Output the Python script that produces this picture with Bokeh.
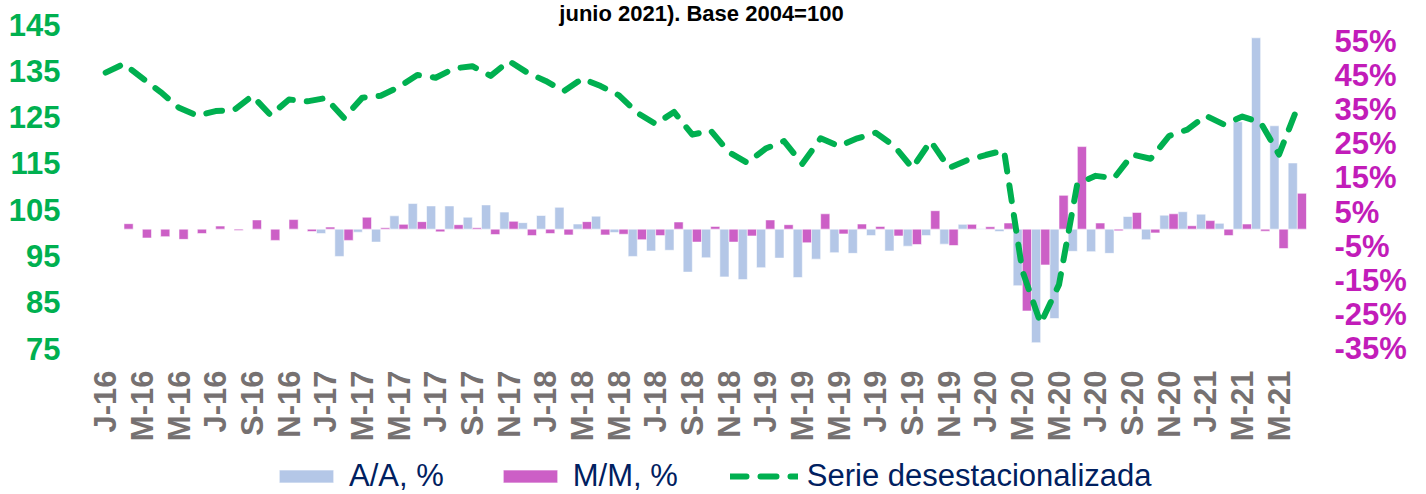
import numpy as np
from bokeh.plotting import figure
from bokeh.layouts import column
from bokeh.models import (Range1d, LinearAxis, FixedTicker, Legend, LegendItem,
                          ColumnDataSource, PrintfTickFormatter)
from bokeh.transform import dodge
from bokeh.embed import file_html
from bokeh.resources import INLINE

# ---------------- data ----------------
tick_labels = ["J-16", "M-16", "M-16", "J-16", "S-16", "N-16",
               "J-17", "M-17", "M-17", "J-17", "S-17", "N-17",
               "J-18", "M-18", "M-18", "J-18", "S-18", "N-18",
               "J-19", "M-19", "M-19", "J-19", "S-19", "N-19",
               "J-20", "M-20", "M-20", "J-20", "S-20", "N-20",
               "J-21", "M-21", "M-21"]

# Serie desestacionalizada (index, base 2004=100), Jan-2016 .. Jun-2021
serie = [134.6, 136.5, 133.4, 130.4, 127.0, 125.3, 126.3, 126.5, 129.6, 125.4,
         128.8, 128.4, 129.1, 124.8, 129.2, 129.6, 131.5, 134.1, 133.5, 135.5,
         136.0, 133.9, 137.1, 134.6, 132.8, 130.6, 133.3, 131.7, 129.7, 125.9,
         123.5, 126.1, 121.2, 122.1, 117.4, 115.1, 118.2, 119.8, 114.9, 120.4,
         118.7, 120.4, 121.6, 118.8, 114.0, 119.8, 114.0, 115.7, 116.8, 117.8,
         91.8, 80.4, 88.8, 110.6, 112.3, 111.8, 116.9, 116.0, 120.9, 122.3,
         125.3, 123.4, 125.1, 123.8, 116.9, 127.0]

# A/A, % (year-on-year), available from Jan-2017
aa = [np.nan] * 12 + [
    -1.3, -8.0, -0.9, -3.8, 3.9, 7.5, 6.8, 6.8, 3.5, 7.1, 5.0, 1.9,
    4.0, 6.4, 1.5, 3.8, -1.0, -8.0, -6.4, -6.2, -12.6, -8.4, -14.0, -14.8,
    -11.3, -8.5, -14.2, -8.8, -6.9, -7.1, -1.9, -6.4, -5.0, -1.9, -4.4, 1.4,
    0.1, -0.7, -16.6, -33.3, -26.2, -6.5, -6.6, -7.1, 3.7, -3.1, 4.1, 5.1,
    4.4, 1.7, 31.5, 56.1, 30.3, 19.4]

# M/M, % (month-on-month), available from Feb-2016
mm = [np.nan] + [
    1.6, -2.6, -2.2, -3.0, -1.3, 0.9, -0.4, 2.7, -3.3, 2.8, -0.7,
    0.6, -3.3, 3.5, 0.4, 1.4, 2.2, -0.8, 1.3, 0.4, -1.6, 2.3, -1.9,
    -1.3, -1.7, 2.2, -1.7, -1.5, -3.1, -1.9, 2.1, -3.8, 0.8, -3.8, -2.0,
    2.7, 1.3, -4.0, 4.5, -1.4, 1.5, 0.8, -2.0, -4.5, 5.4, -4.8, 1.4,
    0.7, 1.8, -24.0, -10.5, 9.9, 24.2, 1.8, -0.5, 4.9, -1.1, 4.5, 1.0,
    2.5, -1.9, 1.5, -0.6, -5.7, 10.5]

left_ticks = [75, 85, 95, 105, 115, 125, 135, 145]
right_ticks = [-35, -25, -15, -5, 5, 15, 25, 35, 45, 55]

TITLE = "junio 2021). Base 2004=100"
AA_COL = "#B4C7E7"
MM_COL = "#CC5FC6"
LINE_COL = "#00B050"

# ---------------- main figure ----------------
n = len(serie)
src = ColumnDataSource(dict(x=list(range(n)), aa=aa, mm=mm, serie=serie))

p = figure(width=1426, height=450, output_backend="svg", toolbar_location=None,
           x_range=Range1d(-0.5, n - 0.5), y_range=Range1d(75, 145),
           min_border_left=96, min_border_right=120, min_border_top=0,
           min_border_bottom=102)
p.extra_y_ranges = {"pct": Range1d(-35, 60)}
p.xgrid.visible = False
p.ygrid.visible = False
p.outline_line_color = None
p.background_fill_color = "white"
p.border_fill_color = "white"

p.title.text = TITLE
p.title.align = "center"
p.title.text_font = "Liberation Sans"
p.title.text_font_style = "bold"
p.title.text_font_size = "22px"
p.title.text_color = "black"
p.title.standoff = -3
p.title.offset = 5

bar_kw = dict(bottom=0, width=0.5, line_color="white", line_width=0.8,
              line_alpha=0.7)
p.vbar(x=dodge("x", -0.25), top="aa", source=src, y_range_name="pct",
       fill_color=AA_COL, **bar_kw)
p.vbar(x=dodge("x", 0.25), top="mm", source=src, y_range_name="pct",
       fill_color=MM_COL, **bar_kw)
line_kw = dict(line_color=LINE_COL, line_width=6, line_dash="16 14",
               line_cap="round", line_join="round")
p.line(x="x", y="serie", source=src, **line_kw)

# left axis
ya = p.yaxis[0]
ya.ticker = FixedTicker(ticks=left_ticks)
ya.axis_line_color = None
ya.major_tick_line_color = None
ya.minor_tick_line_color = None
ya.major_tick_out = 0
ya.major_label_standoff = 36
ya.major_label_text_font = "Liberation Sans"
ya.major_label_text_font_style = "bold"
ya.major_label_text_font_size = "31px"
ya.major_label_text_color = LINE_COL

# right axis
yr = LinearAxis(y_range_name="pct", ticker=FixedTicker(ticks=right_ticks),
                formatter=PrintfTickFormatter(format="%d%%"))
yr.axis_line_color = None
yr.major_tick_line_color = None
yr.minor_tick_line_color = None
yr.major_tick_out = 0
yr.major_label_standoff = 28
yr.major_label_text_font = "Liberation Sans"
yr.major_label_text_font_style = "bold"
yr.major_label_text_font_size = "31px"
yr.major_label_text_color = "#C21CB9"
p.add_layout(yr, "right")

# bottom axis
xa = p.xaxis[0]
xa.ticker = FixedTicker(ticks=list(range(0, n, 2)))
xa.major_label_overrides = {2 * i: lab for i, lab in enumerate(tick_labels)}
xa.major_label_orientation = np.pi / 2
xa.axis_line_color = None
xa.major_tick_line_color = None
xa.minor_tick_line_color = None
xa.major_tick_out = 0
xa.major_label_standoff = 22
xa.major_label_text_font = "Liberation Sans"
xa.major_label_text_font_style = "bold"
xa.major_label_text_font_size = "31px"
xa.major_label_text_color = "#767171"

# ---------------- legend strip ----------------
leg = figure(width=1426, height=44, output_backend="svg", toolbar_location=None,
             x_axis_type=None, y_axis_type=None, min_border=0,
             x_range=Range1d(0, 1), y_range=Range1d(0, 1))
leg.outline_line_color = None
leg.background_fill_color = "white"
leg.border_fill_color = "white"
key_src = ColumnDataSource(dict(x=[np.nan], y=[np.nan]))
g_aa = leg.vbar(x="x", top="y", source=key_src, fill_color=AA_COL, **bar_kw)
g_mm = leg.vbar(x="x", top="y", source=key_src, fill_color=MM_COL, **bar_kw)
g_ln = leg.line(x="x", y="y", source=key_src, **line_kw)

legend = Legend(items=[LegendItem(label="A/A, %", renderers=[g_aa]),
                       LegendItem(label="M/M, %", renderers=[g_mm]),
                       LegendItem(label="Serie desestacionalizada", renderers=[g_ln])],
                orientation="horizontal", location=(176, 0),
                glyph_width=68, glyph_height=16, label_standoff=9, spacing=52,
                padding=0, margin=0, border_line_color=None,
                background_fill_alpha=0,
                label_text_font="Liberation Sans", label_text_font_size="31px",
                label_text_color="#002060")
leg.add_layout(legend)

layout = column(p, leg, spacing=0)
open("out.html", "w").write(file_html(layout, INLINE))
